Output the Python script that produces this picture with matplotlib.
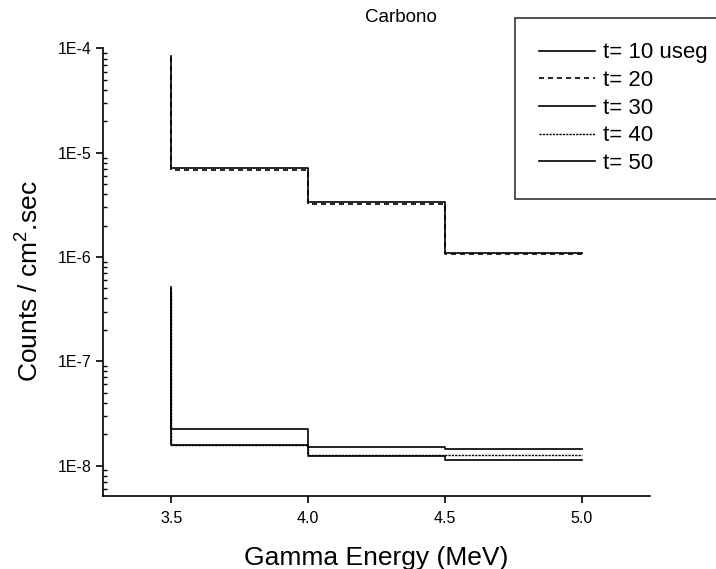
import numpy as np
import matplotlib
matplotlib.use("Agg")
import matplotlib.pyplot as plt
from matplotlib.ticker import LogLocator, FixedLocator, NullFormatter

plt.rcParams["font.family"] = ["Liberation Sans", "DejaVu Sans"]
plt.rcParams["mathtext.fontset"] = "custom"
plt.rcParams["mathtext.rm"] = "Liberation Sans"

# bin edges (MeV) and values per bin; peak = value of the spike at 3.5 MeV
edges = [3.5, 4.0, 4.5, 5.0]
labels = ["t= 10 useg", "t= 20", "t= 30", "t= 40", "t= 50"]
peaks = [8.5e-5, 8.2e-5, 5.2e-7, 4.6e-7, 4.9e-7]
bins_t10 = [7.1e-6, 3.35e-6, 1.09e-6]
bins_t20 = [6.8e-6, 3.23e-6, 1.07e-6]
bins_t30 = [2.26e-8, 1.49e-8, 1.44e-8]
bins_t40 = [1.59e-8, 1.25e-8, 1.25e-8]
bins_t50 = [1.59e-8, 1.23e-8, 1.12e-8]
series = [bins_t10, bins_t20, bins_t30, bins_t40, bins_t50]
styles = ["-", (0, (3, 2.4)), "-", (0, (1.6, 0.8)), "-"]
widths = [1.2, 1.2, 1.2, 1.0, 1.2]

fig = plt.figure(figsize=(7.16, 5.69), dpi=100)
ax = fig.add_axes([0.1439, 0.1283, 0.764, 0.7865])

for lab, pk, vals, ls, lw in zip(labels, peaks, series, styles, widths):
    x = [edges[0]] + list(edges)
    y = [pk] + list(vals) + [vals[-1]]
    ax.step(x, y, where="post", color="black", linestyle=ls, linewidth=lw, label=lab)

ax.set_yscale("log")
ax.set_xlim(3.25, 5.25)
ax.set_ylim(5.1e-9, 1e-4)

ax.spines["top"].set_visible(False)
ax.spines["right"].set_visible(False)
ax.spines["left"].set_linewidth(1.2)
ax.spines["bottom"].set_linewidth(1.2)

ax.xaxis.set_major_locator(FixedLocator(edges))
ax.set_xticklabels(["%.1f" % e for e in edges])
ax.yaxis.set_major_locator(FixedLocator([1e-8, 1e-7, 1e-6, 1e-5, 1e-4]))
ax.set_yticklabels(["1E-8", "1E-7", "1E-6", "1E-5", "1E-4"])
ax.yaxis.set_minor_locator(LogLocator(base=10, subs=np.arange(2, 10), numticks=20))
ax.yaxis.set_minor_formatter(NullFormatter())
ax.tick_params(axis="both", which="major", direction="out", length=5, width=1.2)
ax.tick_params(axis="x", which="major", labelsize=11.5, pad=6)
ax.tick_params(axis="y", which="major", labelsize=11.5)
ax.tick_params(axis="y", which="minor", direction="in", length=3, width=1.0)

ax.set_xlabel("Gamma Energy (MeV)", fontsize=19, labelpad=14)
ax.set_ylabel("Counts / cm$^{2}$.sec", fontsize=19)
ax.yaxis.set_label_coords(-0.11, 0.48)
fig.text(401 / 716, 1 - 17 / 569, "Carbono", fontsize=13.5, ha="center", va="center")

leg_top = 1 - 18 / 569
leg = ax.legend(loc="upper left", bbox_to_anchor=(515 / 716, leg_top - 0.01, 0.4, 0.01),
                bbox_transform=fig.transFigure, mode="expand", fontsize=16,
                frameon=True, fancybox=False, handlelength=2.5, handletextpad=0.35,
                labelspacing=0.3, borderpad=1.1, borderaxespad=0)
leg.get_frame().set_edgecolor("black")
leg.get_frame().set_linewidth(1.2)

fig.savefig("out.png", dpi=100)
